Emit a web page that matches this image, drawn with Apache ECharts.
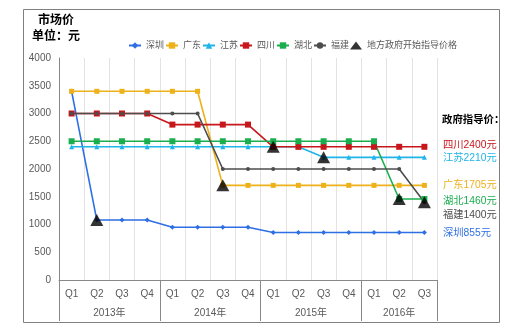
<!DOCTYPE html>
<html><head><meta charset="utf-8">
<script src="https://cdn.jsdelivr.net/npm/echarts@6/dist/echarts.min.js"></script>
<style>html,body{margin:0;padding:0;background:#fff}#c{width:520px;height:335px}</style>
</head><body><div id="c"></div>
<script>
const categories = ['Q1','Q2','Q3','Q4','Q1','Q2','Q3','Q4','Q1','Q2','Q3','Q4','Q1','Q2','Q3'];
const years = ['2013年','2014年','2015年','2016年'];
const quartersPerYear = [4,4,4,3];

const shenzhen  = [3400,1080,1080,1080,950,950,950,950,855,855,855,855,855,855,855];
const guangdong = [3400,3400,3400,3400,3400,3400,1705,1705,1705,1705,1705,1705,1705,1705,1705];
const jiangsu   = [2400,2400,2400,2400,2400,2400,2400,2400,2400,2400,2210,2210,2210,2210,2210];
const sichuan   = [3000,3000,3000,3000,2800,2800,2800,2800,2400,2400,2400,2400,2400,2400,2400];
const hubei     = [2500,2500,2500,2500,2500,2500,2500,2500,2500,2500,2500,2500,2500,1460,1460];
const fujian    = [3000,3000,3000,3000,3000,3000,2000,2000,2000,2000,2000,2000,2000,2000,1400];
const guideStart = [[1,1080],[6,1705],[8,2400],[10,2210],[13,1460],[14,1400]];

const guideNames  = ['四川','江苏','广东','湖北','福建','深圳'];
const guidePrices = [2400, 2210, 1705, 1460, 1400, 855];
const guideColors = ['#C8161D','#1FB5EA','#EDB11A','#1BAE4F','#4D4D4D','#2E6FE3'];
const guideTextY  = [147, 160, 187, 203, 217, 235];

// year bounds/centers derived from quarters per year
const yearBounds = [0];
quartersPerYear.forEach(q => yearBounds.push(yearBounds[yearBounds.length-1] + q));
const yearCenters = years.map((y,i) => (yearBounds[i] + yearBounds[i+1]) / 2);

const FONT = 'Liberation Sans, Noto Sans CJK SC, sans-serif';

function lineSeries(name, data, color, symbol, size) {
  return {
    name, type:'line', data, symbol, symbolSize:size,
    lineStyle:{color, width:1.6}, itemStyle:{color},
    emphasis:{disabled:true}, z:2
  };
}

const chart = echarts.init(document.getElementById('c'), null, {renderer:'canvas'});
chart.setOption({
  animation:false,
  textStyle:{fontFamily:FONT},
  title:[
    {text:'市场价', left:33, top:10, textStyle:{fontSize:12, fontWeight:'bold', color:'#000', fontFamily:FONT}},
    {text:'单位：元', left:27, top:26, textStyle:{fontSize:12, fontWeight:'bold', color:'#000', fontFamily:FONT}}
  ],
  legend:{
    left:123, top:36, itemWidth:12, itemHeight:8, itemGap:1,
    textStyle:{fontSize:9, color:'#595959', fontFamily:FONT},
    data:['深圳','广东','江苏','四川','湖北','福建',
          {name:'地方政府开始指导价格', icon:'triangle', itemStyle:{color:'#000'}}]
  },
  grid:{left:59, right:83, top:58, bottom:55},
  xAxis:[
    {
      type:'category', data:categories, boundaryGap:true,
      axisLine:{lineStyle:{color:'#888', width:1}},
      axisTick:{show:false},
      axisLabel:{color:'#595959', fontSize:10, margin:9, interval:0},
      splitLine:{show:true, interval:0, lineStyle:{color:'#e3e3e3', width:1}}
    },
    {
      type:'value', min:0, max:yearBounds[yearBounds.length-1], position:'bottom',
      axisLine:{show:false},
      splitLine:{show:false},
      axisTick:{show:true, customValues:yearBounds, length:41, lineStyle:{color:'#888', width:1}},
      axisLabel:{show:true, customValues:yearCenters, margin:28, color:'#595959', fontSize:10,
        formatter:function(v){ const i = yearCenters.indexOf(v); return i>=0 ? years[i] : ''; }}
    }
  ],
  yAxis:{
    type:'value', min:0, max:4000, interval:500,
    axisLine:{show:true, lineStyle:{color:'#888'}},
    axisTick:{show:false},
    splitLine:{show:false},
    axisLabel:{color:'#595959', fontSize:10, margin:8, formatter:function(v){ return String(v); }}
  },
  graphic:[
    {type:'rect', shape:{x:23.5, y:9.5, width:476, height:313}, style:{fill:'none', stroke:'#7f7f7f', lineWidth:1}, silent:true},
    {type:'text', left:442, top:115, style:{text:'政府指导价：', fontSize:10.4, fontWeight:'bold', fill:'#000', fontFamily:FONT}}
  ].concat(guideNames.map((n,i) => ({
    type:'text', left:443, top:guideTextY[i]-7,
    style:{text:n + guidePrices[i] + '元', fontSize:10.3, fill:guideColors[i], fontFamily:FONT}
  }))),
  series:[
    lineSeries('深圳', shenzhen, '#2E6FE3', 'diamond', 5),
    lineSeries('广东', guangdong, '#EDB11A', 'rect', 5),
    lineSeries('江苏', jiangsu, '#1FB5EA', 'triangle', 5),
    lineSeries('四川', sichuan, '#C8161D', 'rect', 6),
    lineSeries('湖北', hubei, '#1BAE4F', 'rect', 6),
    lineSeries('福建', fujian, '#4D4D4D', 'circle', 4),
    {name:'地方政府开始指导价格', type:'scatter', data:guideStart, symbol:'triangle', symbolSize:[13,12],
     itemStyle:{color:'#000'}, z:5, emphasis:{disabled:true}}
  ]
});
</script></body></html>
